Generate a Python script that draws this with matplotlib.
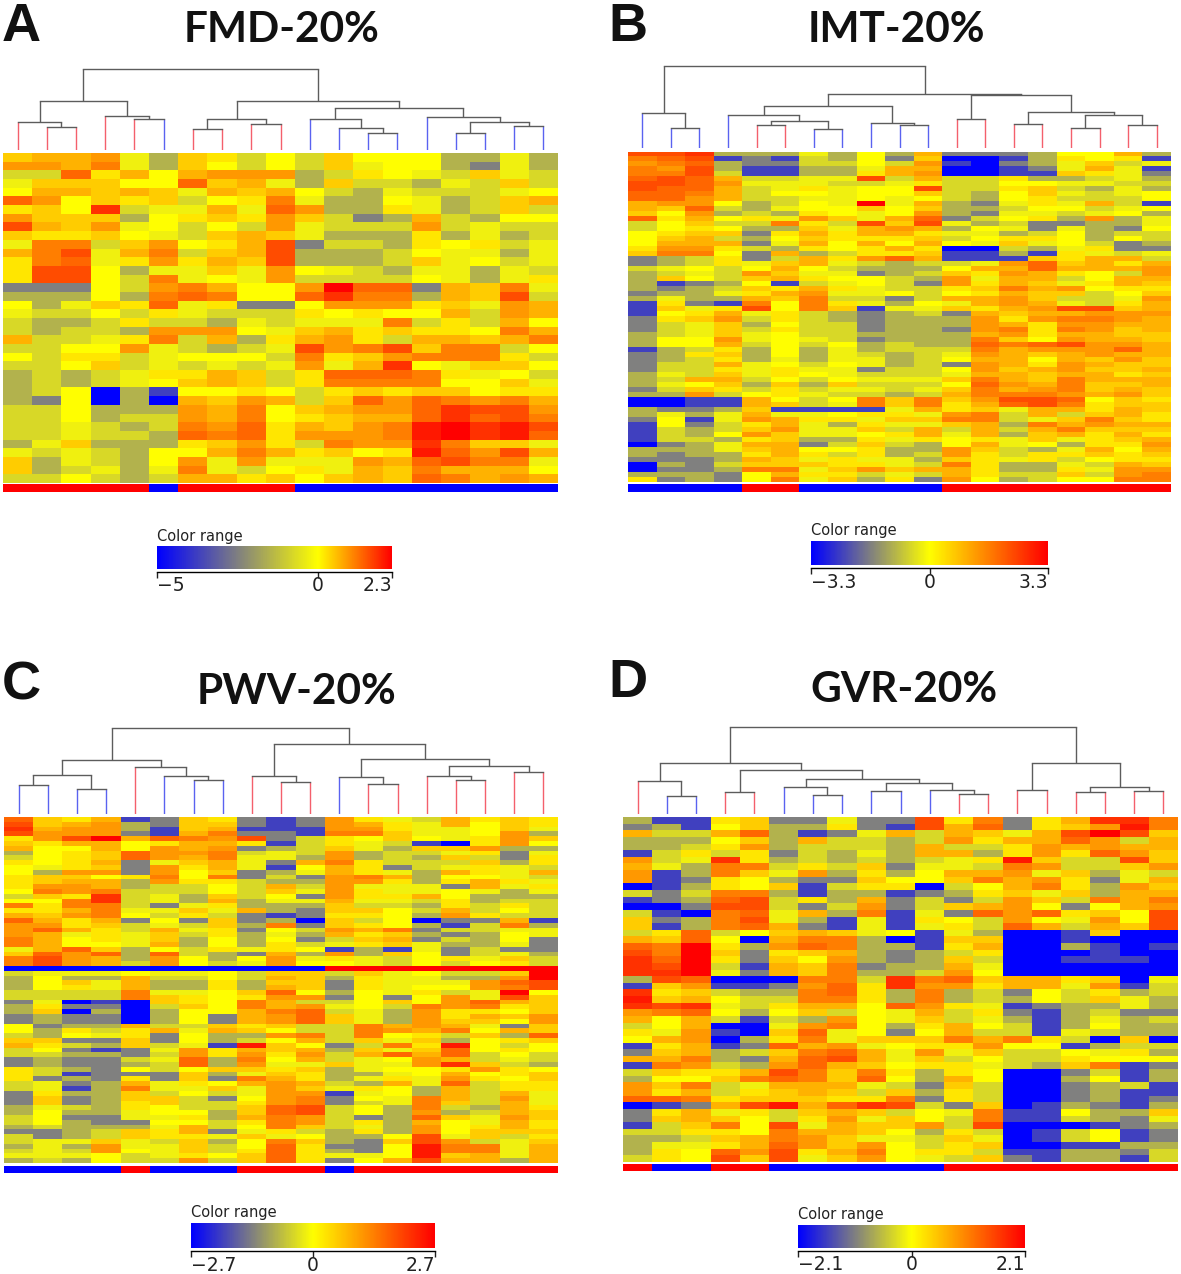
import numpy as np
import matplotlib
matplotlib.use("Agg")
import matplotlib.pyplot as plt
from matplotlib.colors import LinearSegmentedColormap, TwoSlopeNorm

W, H = 1181, 1274

# cell codes: B blue, N slate, G grey, O olive, K khaki, L lime, Y yellow, 1-9 towards red, R red
levels = {"B": -1, "N": -.75, "G": -.5, "O": -.3, "K": -.15, "L": -.06, "Y": 0, "R": 1}
levels.update({str(i): i / 10 for i in range(1, 10)})

fmd_rows = [
    "2 3 3 4 L O 2 1 K Y K 2 Y Y Y O O L O",
    "4 4 3 5 L O 2 Y K Y K 2 L Y Y O G L O",
    "K K 6 1 3 Y 3 4 4 4 O K 1 Y L K 2 L K",
    "L 2 2 2 Y Y 6 2 3 L O 2 K K O L K 2 K",
    "Y 3 3 2 3 2 L 3 2 3 Y K O L K K K L Y",
    "6 4 Y 2 1 2 K Y 1 5 L O O Y L O K 2 3",
    "1 2 Y 8 K L L 3 L 6 4 O O 1 L O K 2 K",
    "4 2 2 2 O Y 1 2 1 4 2 K G O 3 K O Y Y",
    "7 3 2 4 L Y K Y K 4 L K K K 4 K L K K",
    "2 1 1 2 Y L K 2 3 2 L O O O 1 O L O K",
    "L 5 5 K 2 4 Y 1 3 7 G K K O 1 Y 1 K L",
    "3 5 7 L 3 5 K 2 3 7 O O O K Y L L O L",
    "1 5 6 L 1 4 1 3 2 7 O O O K 2 L Y K L",
    "1 7 7 Y O L L 2 L 4 Y L K O L L O L K",
    "1 7 7 Y K 5 L Y L 4 K K K K Y L O L 1",
    "G G G Y K 4 5 3 Y Y 4 R 6 6 G 3 2 5 L",
    "O O O Y O 5 6 5 Y Y 6 8 5 5 O 3 2 7 K",
    "Y O L 2 1 6 L 1 G G Y 4 4 4 1 2 L 4 3",
    "L K K Y K 1 L K K K 1 Y 1 Y Y 3 K 4 3",
    "K O O K 1 K K O L K L L L 5 K 1 K 3 Y",
    "K O K K O 4 4 4 Y L 2 3 1 2 1 1 Y 5 3",
    "3 K K L 1 5 K 3 O 1 3 4 1 K 3 3 2 3 5",
    "K K Y Y 4 L K O K L 7 4 5 7 2 5 5 K Y",
    "Y K 1 1 K L Y Y Y K 5 1 2 4 5 5 5 1 K",
    "K K Y 2 K L K L K L 4 L 3 8 Y L 2 2 Y",
    "O K O K L 1 1 3 2 K 1 6 6 6 5 1 L Y K",
    "O K O K L Y 2 3 2 K 1 5 5 5 5 Y Y 2 L",
    "O K Y B O N Y Y 1 Y K 1 2 1 2 2 Y 1 1",
    "O G Y B O B 3 2 4 3 K 2 6 4 6 5 4 5 3",
    "K K Y O O O 4 3 5 Y 2 3 4 4 6 8 7 7 4",
    "K K Y O K K 4 3 5 Y 1 2 3 3 6 8 6 7 5",
    "K K L K O K 5 4 6 1 3 2 4 5 9 R 8 9 7",
    "K K L K K O 6 5 6 1 4 4 4 5 9 R 8 9 6",
    "O L 2 O O O 1 2 4 1 K 5 4 4 8 5 2 2 L",
    "L K L K O Y Y 3 5 3 1 2 Y 1 9 6 4 7 3",
    "2 O L K O Y 4 L 4 L L L 4 3 6 7 5 5 L",
    "2 O K L O L 5 L K Y 1 L 3 2 5 3 3 3 Y",
    "K K Y K O K 3 3 1 2 Y 2 3 2 6 5 3 4 3",
]

imt_rows = [
    "7 7 8 O O O L O Y O 3 G G G O Y Y 3 O",
    "5 6 7 N G N K O Y G 2 B B N O 1 Y 1 N",
    "4 5 6 O G G K K Y K 4 N B G O L 2 K L",
    "5 4 7 O N N O O L 3 3 B B N G L 3 L N",
    "5 5 7 K N N O O 1 3 4 B B N N 2 1 L G",
    "6 7 6 3 K K L L 7 K 3 K K 1 O O K L O",
    "7 7 6 4 L L L K K L 1 K K Y Y L L K K",
    "7 6 6 3 K L 1 L Y Y 7 K K 1 2 K O L O",
    "6 6 5 3 K Y Y L Y Y 2 K O Y 2 L K L Y",
    "6 6 4 3 K K L L Y L Y K O Y 1 K K K Y",
    "3 4 4 Y O K Y L R L 3 O G L 1 L 3 K N",
    "3 2 6 K O L Y Y 2 Y 2 O O K Y Y K L Y",
    "2 Y 4 O K O 1 Y L Y 4 O G L L K L Y O",
    "6 1 3 Y 1 L 4 2 L 3 6 G K Y 1 O 4 O L",
    "K Y 2 K K 5 1 K 7 2 7 L O K G G O O L",
    "K Y 1 Y O O 2 L 3 4 3 O Y L G L O G Y",
    "Y 1 2 2 G 1 3 1 3 3 1 L L O K Y O K K",
    "Y 2 3 K O Y 2 1 1 1 2 K Y 1 1 Y O Y K",
    "Y 3 3 3 G L 3 Y 3 Y 3 Y L 2 L Y K G O",
    "1 4 4 1 K O 1 Y 1 3 1 B B K O L 1 G G",
    "2 5 5 Y G 3 O K 1 1 2 N N O N 1 L K L",
    "G O K 1 G K 3 1 4 6 3 N N N 2 1 3 3 K",
    "G O K 1 L 2 3 L K O K K L 4 6 2 3 1 3",
    "K L Y K Y 3 Y K O O O Y 3 3 6 3 3 3 4",
    "O K L K 4 2 L L G O K 2 1 4 3 1 Y K 4",
    "O 2 Y K 2 3 1 Y Y K O 4 L 3 3 K Y 3 3",
    "O N G O Y N K L Y K G 4 1 3 2 L 1 3 2",
    "O G O K 2 1 3 1 L K K 1 2 5 3 4 Y 1 1",
    "G O O L 1 3 4 L L Y K Y 1 3 2 2 K Y 2",
    "O L O O 3 2 5 K K G K 3 3 4 2 K K L 4",
    "N 1 G N 5 Y 5 1 L O Y L 3 4 3 L K 1 3",
    "N 2 L 1 7 Y 5 2 N L L 2 1 3 4 7 7 2 3",
    "N Y 1 3 L 1 K O G O K G 3 2 3 3 4 4 4",
    "G 1 2 4 K 1 K O G O O O 4 1 4 5 5 4 3",
    "G K L 2 O Y K K G O O O 4 3 1 4 4 3 3",
    "G K L 2 K 1 K K G O O G 4 5 1 5 4 2 3",
    "O K L 2 L Y K K O O O O 3 4 1 3 3 2 2",
    "O Y Y 4 L Y L K G O O O 5 2 Y 4 3 3 2",
    "O Y Y 3 K Y K Y O K O O 6 5 6 7 4 4 3",
    "N O K 1 O Y O L O K K K 5 3 4 4 4 6 3",
    "G O 1 2 O Y O L K O K L 4 3 2 3 4 3 3",
    "G O K 1 O L O L L O K Y 3 3 Y 3 2 4 2",
    "G K K 3 L Y K Y L O K G 4 3 1 4 3 2 2",
    "G K K 1 L 1 L L G K K Y 4 2 3 4 2 2 3",
    "O L K 2 L 1 Y L K K K L 3 3 2 3 3 1 2",
    "O K 3 3 K Y K Y L L L 2 5 3 2 5 3 3 3",
    "O L Y 2 O 2 O 2 K K K Y 6 4 3 5 2 2 3",
    "G K 2 1 K 1 K L L K L 2 5 3 4 5 2 3 2",
    "O O 4 K Y 1 L K K O K 3 5 5 5 4 3 4 2",
    "B B N N 3 Y K Y 5 2 5 2 4 7 7 6 Y 2 1",
    "B B N N 3 2 K L 5 2 5 1 3 6 7 5 1 2 2",
    "O G G O 2 N N N N L 3 1 2 L 3 3 1 3 2",
    "O L O L 3 L L Y 1 1 L 4 5 K 3 K 2 3 1",
    "G Y N L 4 3 1 1 L 2 2 5 5 K L 2 5 2 1",
    "N Y G K 1 3 L O 1 L L 2 3 O 5 3 4 3 3",
    "N K O K 2 4 L L 2 K 3 K 3 K 3 5 2 2 2",
    "N K O Y 4 2 L L Y 1 3 L 3 O 2 3 1 3 1",
    "N K K O 1 2 O O 1 L 1 Y 1 L 2 L 1 2 3",
    "B G O L 3 3 G K 2 K O Y 3 L Y O 1 1 4",
    "O O O L 2 3 Y Y 1 O O 4 2 K O L 3 Y 3",
    "O G O O 1 3 1 K 1 O K 4 1 K 1 1 2 1 2",
    "G G G O 3 2 L 1 L L O 2 1 L 1 K Y 1 1",
    "B O G K 2 2 2 1 1 L K 5 1 O O L K 3 2",
    "B G G O 5 5 L 2 4 2 3 3 1 O O 1 L 4 4",
    "O O O G Y 3 1 1 K L K 3 1 K K 2 K 4 5",
    "1 G O G Y 5 L 2 O 1 G 4 Y O K Y Y 5 5",
]

pwv_rows = [
    "6 2 1 3 N G 2 1 G N G 4 1 L K 3 1 2 1",
    "7 2 3 4 O G 2 2 G N G 4 3 1 L 3 Y 2 1",
    "8 3 4 4 O N 2 3 N N N 4 4 1 L L Y 2 L",
    "7 4 4 4 G N 3 5 G G N 5 5 2 L L Y 4 O",
    "1 4 7 R 3 6 5 4 7 G K 1 Y 2 Y L 1 4 2",
    "2 1 3 3 Y 1 3 3 1 N K 1 L K N B 1 4 Y",
    "3 Y Y 3 Y 4 3 4 G O K 2 L O 2 2 4 O O",
    "O Y 1 2 6 4 4 5 K L K 4 O K K L 1 G L",
    "K Y 1 2 6 4 3 5 L L O 4 O K O 2 K G 1",
    "1 Y 1 3 G L 2 3 L G 3 5 1 K K K 2 O 1",
    "Y L 1 2 G 4 1 3 L N Y 3 1 G K L 1 L K",
    "Y O 4 4 G 4 Y 2 G O L 3 1 L O 3 1 L 3",
    "1 2 2 Y 1 5 Y 5 G K G 4 5 3 O Y Y L K",
    "1 2 3 3 O 4 1 1 K O O 4 4 1 O 1 3 1 L",
    "1 4 4 3 O K K Y K 3 K 4 L L L G 3 L 1",
    "Y 5 4 5 K K K Y K 2 L 4 1 L L Y L O L",
    "K 2 1 8 K L O 2 K Y G 4 1 1 3 Y O O O",
    "Y Y 5 8 K L O 3 O L L 3 L L K 1 O K K",
    "5 1 5 5 K G L 1 O O O 2 K K O 1 K 1 K",
    "1 1 3 5 L L 2 L 3 O G 2 2 Y K 3 K Y K",
    "3 2 4 5 Y K 1 K G N G 1 1 Y O 4 1 K K",
    "6 3 1 3 G Y G 2 G O B 2 K Y B G G 3 N",
    "4 4 1 2 K L K 2 O 5 G 2 1 Y O N K 5 O",
    "4 6 3 1 K 3 L 1 G Y K 4 3 5 G K K L L",
    "4 3 L 1 L 2 K 1 O L O 3 1 2 O G O Y L",
    "5 3 Y 1 L 2 O Y O Y G K 2 3 G K O Y G",
    "5 3 Y Y L 3 O Y O 1 K L 1 2 L O O L G",
    "L 3 6 2 O Y K 1 L 1 Y N O N L G K G G",
    "2 6 4 6 O 6 K O G 3 O 4 O 2 Y G K L O",
    "5 7 4 3 O 4 Y O Y 4 L 1 L K Y 1 L 2 K",
    "5 7 4 3 K 4 Y K L 4 Y Y L K Y K Y 1 K",
    "B B B B B B B B B B B R R R R R R R R",
    "K L L L Y L L Y K 2 2 K 2 L Y K K 2 R",
    "O Y O O 3 K K Y K 3 2 O 1 L L O O 4 R",
    "O Y 2 L 3 O O 1 O 2 2 G 1 L L L 4 6 7",
    "O Y 1 L 3 O O 1 O 3 2 G 1 L Y Y 4 5 7",
    "K K K K 5 L L Y 2 6 Y O Y L 1 K L R Y",
    "K K K K 5 2 1 Y 1 4 4 G Y G Y 4 L 7 2",
    "G L B N B 2 1 Y 5 3 K K Y 2 Y 4 6 3 2",
    "O 1 G G B K 2 Y 5 3 4 L Y K 5 4 5 1 2",
    "O 2 B O B O Y Y 3 5 6 K L O 4 1 1 Y 2",
    "G O G G B O Y G 3 4 6 2 L O 4 1 3 2 4",
    "G O G G B O Y G 3 4 6 2 L O 4 2 2 Y 4",
    "Y G O O 3 K K 2 1 2 K K 5 3 4 3 L G 2",
    "Y O 1 K 1 3 L 3 2 Y K K 5 4 3 5 Y 3 2",
    "K O Y L 1 G Y O O 4 5 K 5 Y 1 K 2 O 6",
    "2 2 G G 2 G Y O K Y 3 K 2 L 2 O Y 1 2",
    "3 1 K O 2 K L N 9 2 Y G K 5 1 9 Y K Y",
    "K Y G N G L 4 1 3 2 3 O 2 L 2 6 Y 1 Y",
    "K K O O G K 4 1 4 1 4 K 3 6 3 6 K Y K",
    "G O G G K L 6 O 5 Y 3 K L Y 4 3 K L K",
    "G O G G O K 6 O 4 L L 2 L L 4 8 2 K O",
    "1 K O G Y K Y 2 2 1 2 O L Y Y 1 4 1 Y",
    "1 K N G G G 2 O L 2 1 O O L Y 3 Y 1 2",
    "1 G O G 1 G 2 G 5 3 1 O L 1 L 4 1 Y 2",
    "K L G O 3 L 1 Y 3 4 3 K O 3 L 6 K 1 1",
    "K L N O 5 L L 2 L 4 2 L 1 Y O 3 K 1 1",
    "G 1 O O 2 K Y K L 4 4 N L Y O 3 K 3 L",
    "G 2 G O 2 2 K G Y 4 5 G Y L 5 3 K 4 L",
    "G 2 G O 1 2 K K 1 4 5 G K L 5 2 K 3 L",
    "O L K O 1 Y K K 2 6 7 K Y O 5 K O 3 1",
    "O Y O O L Y Y O 2 6 7 K Y O 4 O K 3 2",
    "K Y G G L L 1 O 3 5 4 K G O 6 2 L 4 2",
    "K Y O G G Y Y K 1 5 4 K 1 O 3 Y L 3 1",
    "O K O O O L 3 K Y 5 2 K L O 4 Y 1 3 1",
    "G G O K 2 1 3 G L 1 K O 1 O 4 Y 2 2 2",
    "K G O K 2 1 1 L 2 L Y O O Y 7 L 2 K 1",
    "K L L 2 L K 2 O Y 5 2 O G 2 7 4 K L 2",
    "O L O 4 L L 2 K Y 6 1 G G Y 9 5 5 L 3",
    "K L K 4 Y L 2 K 1 6 1 O G Y 9 5 5 L 3",
    "L L L Y K L 1 Y 2 6 1 L L Y 9 2 3 L 3",
    "O K O Y K K 4 K 2 6 1 G Y 3 7 3 3 O 3",
]

gvr_rows = [
    "O N N 1 2 G G L G G 7 1 5 G 1 3 8 8 5",
    "G O N Y 2 O O 1 G N 7 3 6 G 1 2 4 9 5",
    "3 K K 3 6 O N G L 3 K 3 2 L 3 7 R 7 2",
    "O O O Y 2 O 3 K K O K 4 1 3 3 6 4 K 3",
    "O O K 1 4 O K K K O 3 K K 1 4 3 4 3 3",
    "N K 1 K 1 G K O L O 3 3 O 1 4 1 6 4 2",
    "4 K L 8 1 O K O K O K L 1 9 2 K K 7 2",
    "3 L O 5 5 K 1 K 2 G L L K 5 4 K K 2 4",
    "4 N O 5 2 L 4 O 1 O Y 3 3 4 L 2 O L K",
    "4 N G 1 Y O G G 2 Y Y 2 5 3 4 1 G L 3",
    "B N O 1 Y 2 N K 1 1 B K Y 3 5 1 O 4 2",
    "K G K 5 5 O N O O N G O 1 2 L 2 O 3 3",
    "N G O 6 7 K 1 O 3 G K G K 4 2 K 5 3 5",
    "B B G 7 7 K G K 4 G K 2 3 4 Y G Y 3 4",
    "K N B 5 6 L 3 O 5 N L G 6 4 6 1 2 Y 7",
    "2 G O 5 7 L O N L N 1 Y K 4 Y L 4 Y 7",
    "2 N O 5 6 3 G N L N L 1 K 6 3 K 3 2 7",
    "K 1 6 K Y 2 3 2 L Y N L O B B N 2 B B",
    "3 2 6 Y B 3 5 5 O B N 2 2 B B N B B B",
    "6 5 R 1 O 4 6 5 O O N 1 3 B B O N B N",
    "7 5 R 2 G 1 2 3 O G O K 1 B B B N B B",
    "8 6 R 1 G 2 Y 4 O G O 2 K B B N N N B",
    "8 7 R K N 3 2 5 G O O 3 L B B B B B B",
    "8 8 R L G 3 2 5 O O K 4 Y B B B B B B",
    "O 7 6 B B B 5 5 K 8 5 6 2 3 3 1 2 B L",
    "N 2 4 N N G 4 6 1 8 4 4 1 3 3 L 4 N K",
    "8 1 2 K O O 5 6 1 O 5 O K G Y K 1 O K",
    "9 2 3 Y K K 5 5 1 O 5 O K O Y K 2 L O",
    "8 7 8 L K 1 3 3 Y 6 4 1 L N G O O L O",
    "4 5 6 Y O Y 2 K Y L 3 K 1 G N O K G G",
    "3 Y 3 K N K O 4 Y L 2 K L O N O L O K",
    "K Y 3 B B L 4 5 Y O 1 3 Y K N O Y O O",
    "1 L 4 N B 2 6 L Y G Y 3 K K N L K O O",
    "Y 3 4 B O 1 5 L 2 2 2 5 3 5 1 K B 2 B",
    "N 1 3 N G 6 3 4 L Y 1 1 4 Y Y N O K K",
    "G 2 3 O K 2 5 6 3 L 4 L 2 K K Y L 1 O",
    "3 3 5 O G 3 6 7 3 L 2 K Y K K 1 Y Y Y",
    "N 5 4 K O 4 6 3 2 Y 1 1 L K O 2 5 N G",
    "K 2 1 1 3 7 5 2 5 1 O 1 Y B B G K N O",
    "O Y Y 2 5 6 5 2 6 Y O 3 Y B B O Y N O",
    "4 2 5 K L 3 3 3 L K G 2 K B B G O K N",
    "4 1 3 K 1 2 3 2 K 2 O 1 K B B G O N N",
    "6 6 5 1 2 2 2 1 1 5 G 1 K B B G O N G",
    "B N G 3 7 9 3 6 8 7 K G 2 B N O G N O",
    "G 1 3 L 1 K 2 3 2 K Y L 5 N N Y O O 2",
    "G 2 3 2 Y K 1 4 L 2 Y K 5 N N K O G L",
    "N K 2 5 Y 7 L 3 2 2 4 K 7 B B B N G O",
    "K K 1 1 Y 5 3 3 2 Y O 1 K B N K Y N G",
    "O O K 2 3 5 4 2 L L K 2 L B N K Y N G",
    "O L L 1 3 6 4 2 4 Y K 1 2 B B N N O O",
    "O 1 Y 6 4 7 1 3 5 Y 1 1 K N N O O G K",
    "K 1 Y 7 2 7 L 2 4 Y L K 2 G N O O N K",
]

# sample group under each column (and at the leaf of each dendrogram), r / b
fmd_groups = "rrrrrbrrrrbbbbbbbbb"
imt_groups = "bbbbrrbbbbbrrrrrrrr"
pwv_groups = "bbbbrbbbrrrbrrrrrrr"
gvr_groups = "rbbrrbbbbbbrrrrrrrr"

# dendrograms: (height, left, right), leaves are column numbers
fmd_tree = (90, (55, (31, 0, (26, 1, 2)), (38, 3, (34, 4, 5))),
            (55, (35, (23, 6, 7), (29, 8, 9)),
             (47, (35, 10, (25, 11, (19, 12, 13))),
              (37, 14, (31, (19, 15, 16), (27, 17, 18))))))
imt_tree = (89, (38.5, 0, (22, 1, 2)),
            (59, (46, (36, 3, (29.5, (25, 4, 5), (21, 6, 7))), (27, 8, (25, 9, 10))),
             (57, (32, 11, 12), (39, (26, 13, 14), (36, (22, 15, 16), (25.5, 17, 18))))))
pwv_tree = (94, (59, (43, (32, 0, 1), (27, 2, 3)), (51, 4, (42, 5, (37, 6, 7)))),
            (76, (42, 8, (35, 9, 10)),
             (60, (40.5, 11, (33, 12, 13)),
              (52, (42, 14, (37, 15, 16)), (46, 17, 18)))))
gvr_tree = (94, (55.5, (35.5, 0, (19, 1, 2)),
                 (48, (24, 3, 4), (38, (29, 5, (21, 6, 7)),
                                   (34, (25, 8, 9), (26, 10, (22, 11, 12)))))),
            (55.5, (26, 13, 14), (29, (24, 15, 16), (25, 17, 18))))

titles = ["FMD-20%", "IMT-20%", "PWV-20%", "GVR-20%"]
letters = ["A", "B", "C", "D"]
range_low = [-5, -3.3, -2.7, -2.1]
range_high = [2.3, 3.3, 2.7, 2.1]
tick_text = [["\u22125", "0", "2.3"], ["\u22123.3", "0", "3.3"],
             ["\u22122.7", "0", "2.7"], ["\u22122.1", "0", "2.1"]]

cmap = LinearSegmentedColormap.from_list(
    "range", [(0, "#0000ff"), (.25, "#808080"), (.5, "#ffff00"), (1, "#ff0000")])
group_col = {"r": "#ff0000", "b": "#0000ff"}
leaf_col = {"r": "#f4606c", "b": "#5a62f0"}


def parse(rows):
    out = []
    for i, row in enumerate(rows):
        cells = row.split()
        if len(cells) != 19:
            raise ValueError("row %d has %d cells" % (i, len(cells)))
        out.append([levels[c] for c in cells])
    return np.array(out, dtype=float)


def px_axes(fig, x0, y0, x1, y1):
    # axes from pixel box, y going down like in the picture
    return fig.add_axes([x0 / W, 1 - y1 / H, (x1 - x0) / W, (y1 - y0) / H])


def draw_node(ax, node, groups):
    # returns x position and height of the node
    if not isinstance(node, tuple):
        return node, 0
    h, left, right = node
    xl, hl = draw_node(ax, left, groups)
    xr, hr = draw_node(ax, right, groups)
    cl = leaf_col[groups[left]] if hl == 0 else "#5c5c5c"
    cr = leaf_col[groups[right]] if hr == 0 else "#5c5c5c"
    ax.plot([xl, xl], [hl, h], color=cl, lw=1.0, solid_capstyle="butt")
    ax.plot([xr, xr], [hr, h], color=cr, lw=1.0, solid_capstyle="butt")
    ax.plot([xl, xr], [h, h], color="#5c5c5c", lw=1.0, solid_capstyle="projecting")
    return (xl + xr) / 2, h


def panel(fig, rows, tree, groups, box):
    x0, x1, base, top, root, hy0, hy1, by0, by1 = box
    ax = px_axes(fig, x0, hy0, x1, hy1)
    ax.imshow(parse(rows), cmap=cmap, vmin=-1, vmax=1, aspect="auto", interpolation="nearest")
    ax.axis("off")

    den = px_axes(fig, x0, top, x1, base)
    draw_node(den, tree, groups)
    den.set_xlim(-.5, 18.5)
    den.set_ylim(0, tree[0] * (base - top) / (base - root))
    den.axis("off")

    bar = px_axes(fig, x0, by0, x1, by1)
    bar.bar(np.arange(19), np.ones(19), width=1.0, color=[group_col[g] for g in groups])
    bar.set_xlim(-.5, 18.5)
    bar.set_ylim(0, 1)
    bar.axis("off")


def color_range(fig, i, box, text_y):
    x0, x1, y0, y1 = box
    ax = px_axes(fig, x0, y0, x1, y1)
    low, high = range_low[i], range_high[i]
    norm = TwoSlopeNorm(vmin=low, vcenter=0, vmax=high)
    grad = np.linspace(low, high, 300).reshape(1, -1)
    ax.imshow(grad, cmap=cmap, norm=norm, aspect="auto", extent=[low, high, 0, 1])
    ax.set_yticks([])
    ax.set_xticks([low, 0, high])
    ax.set_xticklabels([])
    # end labels sit inside the bracket, so they are placed by hand
    trans = ax.get_xaxis_transform()
    for val, txt, ha in zip([low, 0, high], tick_text[i], ["left", "center", "right"]):
        ax.text(val, -.32, txt, transform=trans, ha=ha, va="top", fontsize=13.5, color="#222222")
    ax.tick_params(axis="x", length=4, width=1, color="#222222")
    for s in ["top", "left", "right"]:
        ax.spines[s].set_visible(False)
    ax.spines["bottom"].set_position(("outward", 2))
    ax.spines["bottom"].set_linewidth(1)
    fig.text(x0 / W, 1 - text_y / H, "Color range", fontsize=10.5, color="#222222",
             va="center", ha="left")


plt.rcParams["font.family"] = ["DejaVu Sans"]
fig = plt.figure(figsize=(W / 100, H / 100), dpi=100)

# x0, x1, leaf base y, dendro box top, root y, heat top, heat bottom, bar top, bar bottom
panel(fig, fmd_rows, fmd_tree, fmd_groups, (3, 558, 150, 60, 69, 153, 483, 484, 492))
panel(fig, imt_rows, imt_tree, imt_groups, (628, 1171, 148, 60, 66, 152, 482, 484, 492))
panel(fig, pwv_rows, pwv_tree, pwv_groups, (4, 558, 814, 720, 728, 817, 1163, 1166, 1173))
panel(fig, gvr_rows, gvr_tree, gvr_groups, (623, 1178, 814, 720, 727, 817, 1162, 1164, 1171))

color_range(fig, 0, (157, 392, 546, 569), 536)
color_range(fig, 1, (811, 1048, 541, 565), 531)
color_range(fig, 2, (191, 435, 1223, 1248), 1212)
color_range(fig, 3, (798, 1025, 1225, 1248), 1214)

title_xy = [(282, 42), (896, 42), (297, 704), (904, 702)]
letter_xy = [(2, 41), (608, 41), (2, 699), (608, 697)]
for i in range(4):
    fig.text(title_xy[i][0] / W, 1 - title_xy[i][1] / H, titles[i], fontsize=30.5,
             fontweight="bold", family="Lato", ha="center", va="baseline", color="#111111")
    fig.text(letter_xy[i][0] / W, 1 - letter_xy[i][1] / H, letters[i], fontsize=39,
             fontweight="bold", family="Liberation Sans", ha="left", va="baseline", color="#111111")

fig.savefig("out.png", dpi=100)
